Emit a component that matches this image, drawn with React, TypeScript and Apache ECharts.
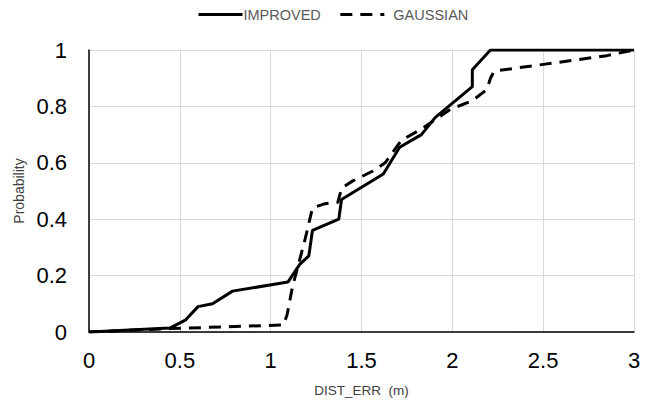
import React, { useEffect, useRef } from "react";
import * as echarts from "echarts";

const improvedX = [0, 0.445, 0.53, 0.6, 0.68, 0.79, 1.095, 1.16, 1.21, 1.23, 1.375, 1.39, 1.62, 1.71, 1.83, 1.905, 2.11, 2.11, 2.21, 3];
const improvedY = [0, 0.014, 0.042, 0.09, 0.1, 0.145, 0.177, 0.24, 0.27, 0.36, 0.4, 0.47, 0.56, 0.655, 0.7, 0.76, 0.87, 0.93, 1, 1];

const gaussianX = [0, 0.45, 1.07, 1.09, 1.12, 1.19, 1.23, 1.3, 1.37, 1.39, 1.45, 1.56, 1.63, 1.72, 1.83, 1.99, 2.11, 2.19, 2.21, 2.23, 2.85, 3];
const gaussianY = [0, 0.012, 0.025, 0.06, 0.16, 0.33, 0.44, 0.455, 0.46, 0.51, 0.535, 0.57, 0.6, 0.68, 0.72, 0.79, 0.82, 0.86, 0.9, 0.925, 0.98, 1];

const seriesNames = ["IMPROVED", "GAUSSIAN"];
const xAxisName = "DIST_ERR  (m)";
const yAxisName = "Probability";

const font = "'Liberation Sans', Arial, sans-serif";

export default function App() {
  const ref = useRef<HTMLDivElement>(null);
  useEffect(() => {
    if (!ref.current) return;
    const chart = echarts.init(ref.current, undefined, { renderer: "svg" });
    const legendText = { fontSize: 14.5, color: "#595959", fontFamily: font };
    chart.setOption({
      animation: false,
      textStyle: { fontFamily: font },
      legend: {
        top: 2,
        left: 192,
        itemWidth: 44,
        itemHeight: 14,
        itemGap: 18,
        itemStyle: { opacity: 0 },
        lineStyle: { width: 3 },
        textStyle: legendText,
        data: [
          { name: seriesNames[0], textStyle: { ...legendText, padding: [0, 0, 0, -4] } },
          { name: seriesNames[1], textStyle: { ...legendText, padding: [0, 0, 0, 4] } },
        ],
      },
      grid: { left: 89, right: 25, top: 50, bottom: 75, containLabel: false },
      xAxis: {
        type: "value",
        min: 0,
        max: 3,
        interval: 0.5,
        name: xAxisName,
        nameLocation: "middle",
        nameGap: 51,
        nameTextStyle: { fontSize: 13.5, color: "#404040", fontFamily: font },
        axisLine: { show: true, onZero: false, lineStyle: { color: "#000", width: 1.5 } },
        axisTick: { show: false },
        axisLabel: { fontSize: 22, color: "#000", margin: 17, fontFamily: font },
        splitLine: { show: true, lineStyle: { color: "#d9d9d9", width: 1 } },
      },
      yAxis: {
        type: "value",
        min: 0,
        max: 1,
        interval: 0.2,
        name: yAxisName,
        nameLocation: "middle",
        nameRotate: 90,
        nameGap: 60,
        nameTextStyle: { fontSize: 14, color: "#404040", fontFamily: font },
        axisLine: { show: true, lineStyle: { color: "#000", width: 1.5 } },
        axisTick: { show: false },
        axisLabel: { fontSize: 22, color: "#000", margin: 22, fontFamily: font },
        splitLine: { show: true, lineStyle: { color: "#d9d9d9", width: 1 } },
      },
      series: [
        {
          name: seriesNames[0],
          type: "line",
          data: improvedX.map((x, i) => [x, improvedY[i]]),
          symbol: "none",
          lineStyle: { color: "#000", width: 3, type: "solid" },
          itemStyle: { color: "#000" },
        },
        {
          name: seriesNames[1],
          type: "line",
          data: gaussianX.map((x, i) => [x, gaussianY[i]]),
          symbol: "none",
          lineStyle: { color: "#000", width: 3, type: [12, 8] },
          itemStyle: { color: "#000" },
        },
      ],
    });
    return () => chart.dispose();
  }, []);
  return <div ref={ref} style={{ width: 659, height: 407, position: "absolute", left: 0, top: 0, background: "#fff" }} />;
}
